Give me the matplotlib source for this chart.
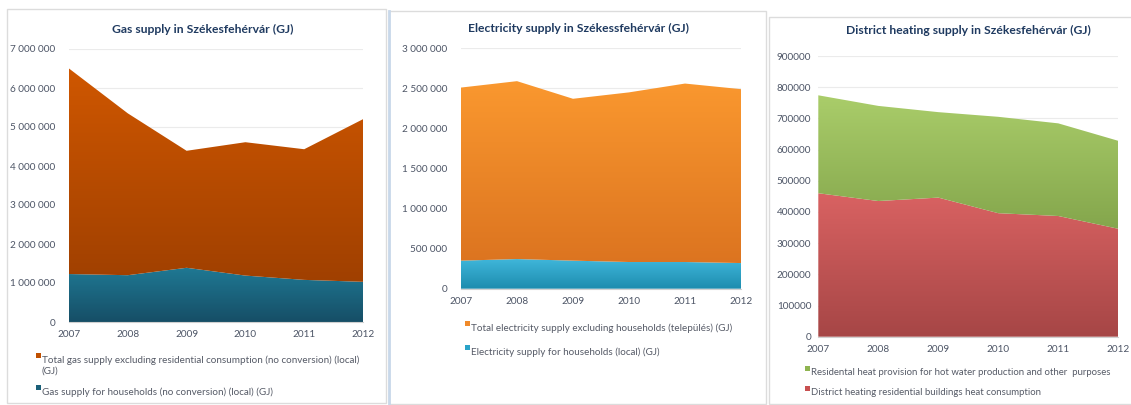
import numpy as np
import matplotlib
matplotlib.use("Agg")
import matplotlib.pyplot as plt
from matplotlib.colors import to_rgb
from matplotlib.patches import Rectangle
from matplotlib.lines import Line2D

plt.rcParams['font.family'] = ['Lato', 'DejaVu Sans']

years = ["2007", "2008", "2009", "2010", "2011", "2012"]

# Gas supply (GJ)
gas_households = [1230000, 1200000, 1390000, 1190000, 1080000, 1030000]
gas_total = [6500000, 5350000, 4390000, 4610000, 4430000, 5200000]
gas_non_res = [t - h for t, h in zip(gas_total, gas_households)]

# Electricity supply (GJ)
el_households = [350000, 370000, 350000, 333000, 333000, 320000]
el_total = [2510000, 2590000, 2370000, 2450000, 2560000, 2490000]
el_non_res = [t - h for t, h in zip(el_total, el_households)]

# District heating (GJ)
dh_heat = [460000, 435000, 446000, 396000, 387000, 346000]
dh_total = [774000, 740000, 720000, 705000, 684000, 628000]
dh_hot_water = [t - h for t, h in zip(dh_total, dh_heat)]

W, H = 1131, 405
fig = plt.figure(figsize=(W / 100, H / 100), dpi=100)
fig.patch.set_facecolor('white')

def fx(px):
    return px / W

def fy(py):
    return 1 - py / H

# panel frames
frames = [(7, 9, 386, 403),
          (389, 11, 766, 404),
          (769, 17, 1135, 404)]
for l, t, r, b in frames:
    fig.add_artist(Rectangle((fx(l), fy(b)), fx(r - l), (b - t) / H,
                             transform=fig.transFigure, facecolor='none',
                             edgecolor='#dcdcdc', lw=1.0))
fig.add_artist(Line2D([fx(389), fx(389)], [fy(11), fy(405)],
                      transform=fig.transFigure, color='#c8d8ea', lw=2.0))

tick_color = '#4d5566'
title_color = '#1f3a60'
legend_color = '#555a66'

def gradient_fill(ax, x, lower, upper, c_top, c_bot):
    poly = ax.fill_between(x, lower, upper, facecolor='none', edgecolor='none')
    n = 256
    top = np.array(to_rgb(c_top))
    bot = np.array(to_rgb(c_bot))
    t = np.linspace(0, 1, n)[:, None]
    grad = (bot + (top - bot) * t)[:, None, :]
    ymin = float(np.min(lower))
    ymax = float(np.max(upper))
    im = ax.imshow(grad, extent=[x[0], x[-1], ymin, ymax], origin='lower',
                   aspect='auto', interpolation='bilinear', zorder=2)
    path = poly.get_paths()[0]
    im.set_clip_path(path, transform=ax.transData)

def make_panel(box, ymax, ystep, fmt, layers, title, title_pos, ytick_pad,
               legend_items, legend_pos, legend_gap, legend_size=7.2):
    l, t, r, b = box
    ax = fig.add_axes([fx(l), fy(b), fx(r - l), (b - t) / H])
    x = np.arange(len(years))
    base = np.zeros(len(years))
    for vals, ctop, cbot in layers:
        v = np.array(vals, dtype=float)
        gradient_fill(ax, x, base, base + v, ctop, cbot)
        base = base + v
    ax.set_xlim(0, len(years) - 1)
    ax.set_ylim(0, ymax)
    ticks = np.arange(0, ymax + 1, ystep)
    ax.set_yticks(ticks)
    ax.set_yticklabels([fmt(v) for v in ticks])
    ax.set_xticks(x)
    ax.set_xticklabels(years)
    ax.grid(axis='y', color='#ebebeb', lw=0.8, zorder=0)
    ax.set_axisbelow(True)
    for s in ['top', 'right', 'left']:
        ax.spines[s].set_visible(False)
    ax.spines['bottom'].set_color('#d0d0d0')
    ax.spines['bottom'].set_zorder(3)
    ax.tick_params(axis='both', length=0, labelsize=7.2, colors=tick_color)
    ax.tick_params(axis='y', pad=ytick_pad)
    ax.tick_params(axis='x', pad=6)
    ax.set_facecolor('none')
    fig.text(fx(title_pos[0]), fy(title_pos[1]), title, ha='center', va='center',
             fontsize=8.7, fontweight='bold', color=title_color)
    lx, ly = legend_pos
    for i, (label, col) in enumerate(legend_items):
        yy = ly + i * legend_gap
        fig.add_artist(Rectangle((fx(lx), fy(yy + 3)), fx(5), 5 / H,
                                 transform=fig.transFigure, facecolor=col,
                                 edgecolor='none'))
        fig.text(fx(lx + 6), fy(yy), label, ha='left', va='top',
                 fontsize=legend_size, color=legend_color, linespacing=1.35)
    return ax

def fmt_space(v):
    return f"{int(v):,}".replace(",", " ")

def fmt_plain(v):
    return f"{int(v)}"

make_panel((69, 49, 363, 322), 7000000, 1000000, fmt_space,
           [(gas_households, '#1f7994', '#164e66'),
            (gas_non_res, '#cf5700', '#a04000')],
           "Gas supply in Székesfehérvár (GJ)", (203, 29), 10,
           [("Total gas supply excluding residential consumption (no conversion) (local)\n(GJ)", '#c05000'),
            ("Gas supply for households (no conversion) (local) (GJ)", '#1a5f78')],
           (36, 355), 32, 7.1)

make_panel((461, 48.3, 741, 288.7), 3000000, 500000, fmt_space,
           [(el_households, '#3fb6da', '#1d8cae'),
            (el_non_res, '#fa982f', '#dc7420')],
           "Electricity supply in Székessfehérvár (GJ)", (578, 28), 10,
           [("Total electricity supply excluding households (település) (GJ)", '#f08a2a'),
            ("Electricity supply for households (local) (GJ)", '#2aa3c8')],
           (465, 323), 24, 7.1)

make_panel((818.3, 56, 1118.3, 336.7), 900000, 100000, fmt_plain,
           [(dh_heat, '#d96262', '#a64646'),
            (dh_hot_water, '#aacd6a', '#84a64c')],
           "District heating supply in Székesfehérvár (GJ)", (968, 30), 5,
           [("Residental heat provision for hot water production and other  purposes", '#8fb450'),
            ("District heating residential buildings heat consumption", '#c85050')],
           (805, 368), 20, 6.9)

fig.savefig("out.png", dpi=100, facecolor='white')
